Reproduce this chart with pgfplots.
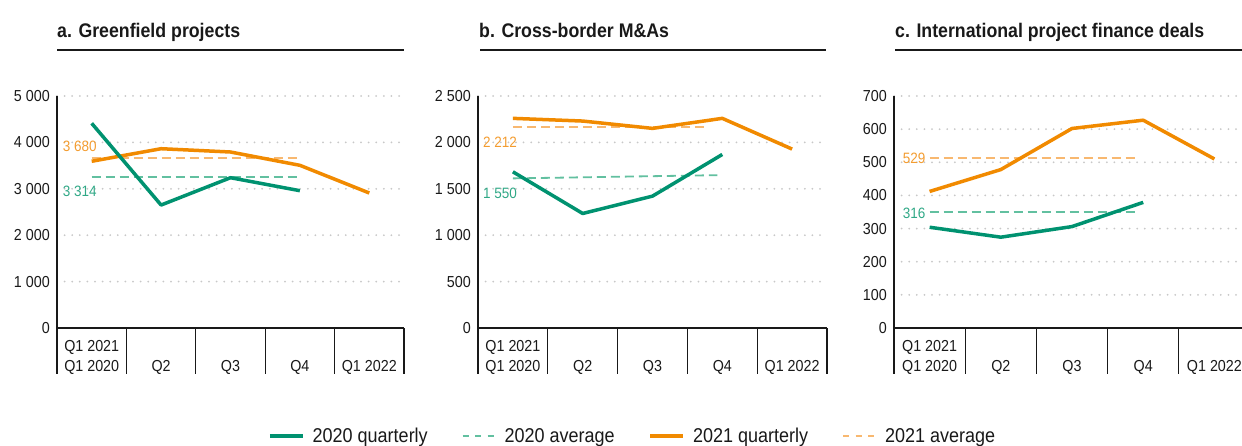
\documentclass[border=0pt]{standalone}
\usepackage{fontspec}
\setmainfont[FakeStretch=0.9]{Liberation Sans}
\usepackage{pgfplots}
\pgfplotsset{compat=1.18}
\definecolor{gq}{RGB}{0,146,112}
\definecolor{ga}{RGB}{98,192,160}
\definecolor{gl}{RGB}{48,168,134}
\definecolor{oq}{RGB}{241,138,0}
\definecolor{oa}{RGB}{248,184,112}
\definecolor{ol}{RGB}{243,156,48}
\definecolor{gridc}{RGB}{200,200,200}
\definecolor{txt}{RGB}{25,25,25}

\tikzset{
 q/.style={line width=3.5pt, line join=round},
 av/.style={line width=1.8pt, dash pattern=on 9pt off 5pt},
 lab/.style={anchor=west, inner sep=0pt, font=\fontsize{15}{18}\selectfont},
}
\pgfplotsset{
 panel/.style={
  scale only axis, width=347pt, height=232pt, anchor=south west,
  xmin=-0.5, xmax=4.5, ymin=0, enlargelimits=false, clip=false,
  axis lines*=left, axis line style={-, txt, line width=1.2pt},
  xtick={0,1,2,3,4},
  xticklabels={{\strut Q1 2021\\Q1 2020},{\strut\\Q2},{\strut\\Q3},{\strut\\Q4},{\strut\\Q1 2022}},
  major tick length=0pt,
  xticklabel style={align=center, anchor=north, inner sep=0pt, yshift=-9.7pt, text=txt, font=\fontsize{15.9}{20}\selectfont},
  yticklabel style={anchor=east, inner sep=0pt, xshift=-7pt, text=txt, font=\fontsize{15.9}{20}\selectfont},
  extra x ticks={-0.5,0.5,1.5,2.5,3.5,4.5},
  extra x tick labels={},
  extra x tick style={tick align=outside, major tick length=46pt, tick style={txt, line width=1.2pt}, grid=none},
  ymajorgrids, grid style={gridc, line width=2pt, line cap=round, dash pattern=on 0pt off 7.6pt},
  scaled ticks=false,
  /pgf/number format/1000 sep={\ },
  /pgf/number format/assume math mode=true,
 },
}

\begin{document}
\begin{tikzpicture}
\useasboundingbox (0,0) rectangle (1242pt,446pt);

% ---------- panel a ----------
\begin{axis}[panel, at={(57pt,118pt)}, ymax=5000, ytick={0,1000,...,5000}]
\addplot[av, ga] coordinates {(0,3260) (3,3260)};
\addplot[av, oa] coordinates {(0,3660) (2.96,3660)};
\addplot[q, oq] coordinates {(0,3593) (1,3864) (2,3793) (3,3506) (4,2909)};
\addplot[q, gq] coordinates {(0,4411) (1,2650) (2,3239) (3,2959)};
\node[lab, text=ol] at (axis cs:-0.418,3907) {3 680};
\node[lab, text=gl] at (axis cs:-0.418,2953) {3 314};
\end{axis}

% ---------- panel b ----------
\begin{axis}[panel, at={(478pt,118pt)}, width=349pt, ymax=2500, ytick={0,500,...,2500},
  legend columns=4,
  legend style={at={(-0.6017,-0.4655)}, anchor=west, draw=none, fill=none, inner sep=0pt,
    font=\fontsize{20}{24}\selectfont, text=txt,
    /tikz/every odd column/.append style={column sep=8pt},
    /tikz/every even column/.append style={column sep=34pt},
    nodes={inner sep=0pt}},
  legend image code/.code={\draw[#1] (0pt,0pt) -- (33pt,0pt);}]
\addlegendimage{gq, line width=3.5pt}
\addlegendentry{2020 quarterly}
\addlegendimage{ga, line width=1.8pt, dash pattern=on 6pt off 6.5pt}
\addlegendentry{2020 average}
\addlegendimage{oq, line width=3.5pt}
\addlegendentry{2021 quarterly}
\addlegendimage{oa, line width=1.8pt, dash pattern=on 6pt off 6.5pt}
\addlegendentry{2021 average}
\addplot[av, ga, forget plot] coordinates {(0,1612) (2.93,1647)};
\addplot[av, oa, forget plot] coordinates {(0,2168) (2.8,2168)};
\addplot[q, oq, forget plot] coordinates {(0,2259) (1,2230) (2,2151) (3,2259) (4,1928)};
\addplot[q, gq, forget plot] coordinates {(0,1683) (1,1234) (2,1421) (3,1870)};
\node[lab, text=ol] at (axis cs:-0.428,2000) {2 212};
\node[lab, text=gl] at (axis cs:-0.428,1456) {1 550};
\end{axis}

% ---------- panel c ----------
\begin{axis}[panel, at={(894pt,118pt)}, width=356pt, ymax=700, ytick={0,100,...,700}]
\addplot[av, ga] coordinates {(0,350) (2.9,350)};
\addplot[av, oa] coordinates {(0,512) (2.9,512)};
\addplot[q, oq] coordinates {(0,412) (1,478) (2,602) (3,627) (4,510)};
\addplot[q, gq] coordinates {(0,304) (1,274) (2,306) (3,379)};
\node[lab, text=ol] at (axis cs:-0.378,512) {529};
\node[lab, text=gl] at (axis cs:-0.378,347) {316};
\end{axis}

% ---------- titles ----------
\begin{scope}[every node/.style={anchor=base west, inner sep=0pt, text=txt, font=\fontsize{19.7}{24}\bfseries\selectfont}]
\node at (57pt,408.5pt) {a. Greenfield projects};
\node at (479pt,408.5pt) {b. Cross-border M\&As};
\node at (895pt,408.5pt) {c. International project finance deals};
\end{scope}
\draw[txt, line width=1.3pt] (57pt,396pt) -- (404pt,396pt);
\draw[txt, line width=1.3pt] (480pt,396pt) -- (826pt,396pt);
\draw[txt, line width=1.3pt] (895pt,396pt) -- (1242pt,396pt);
\end{tikzpicture}
\end{document}
